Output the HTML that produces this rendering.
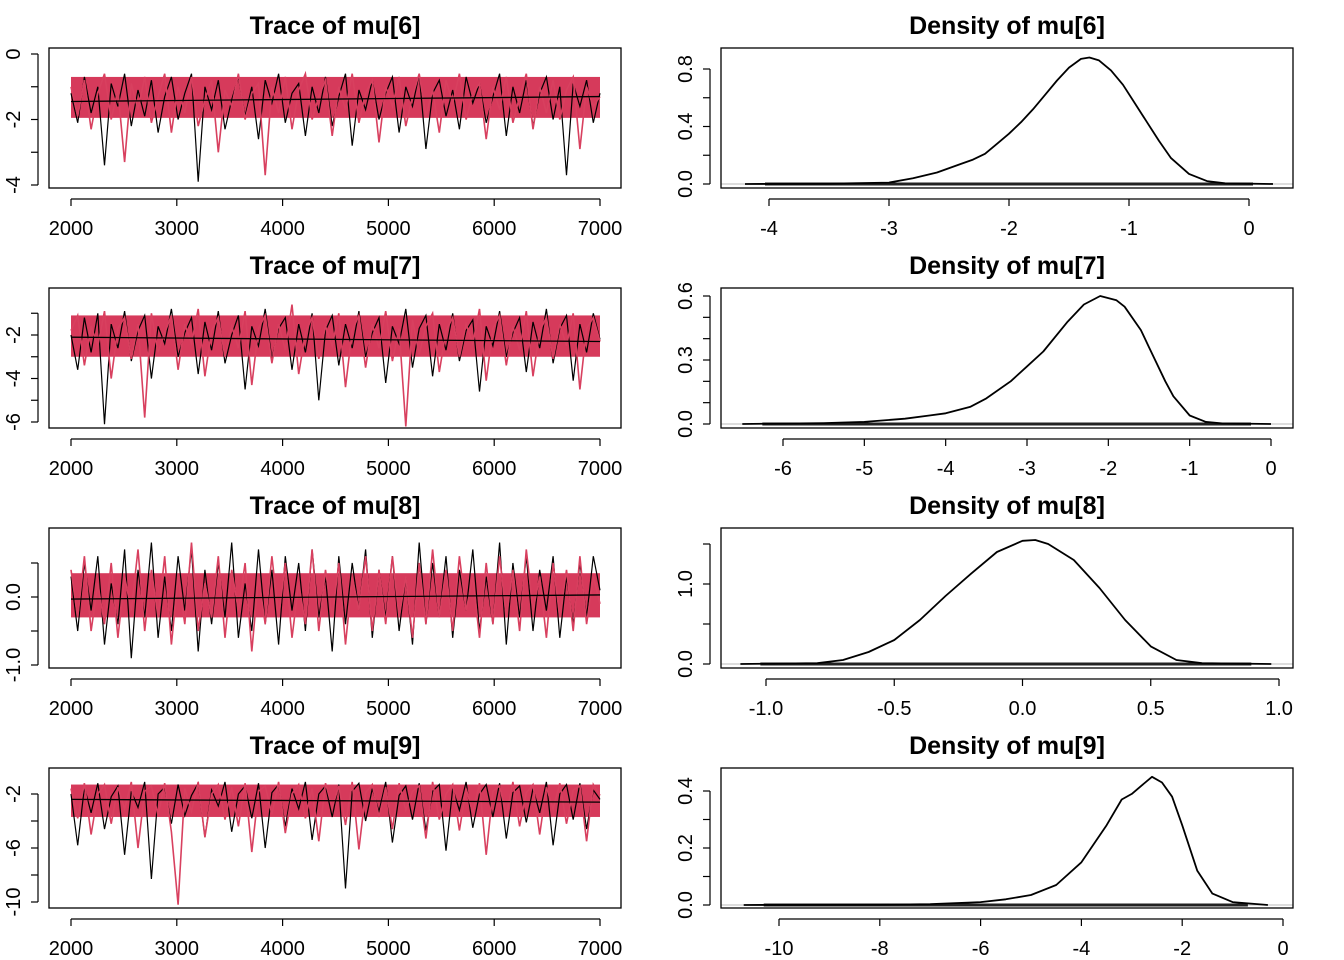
<!DOCTYPE html>
<html><head><meta charset="utf-8"><style>
body{margin:0;background:#fff;}
svg{display:block;font-family:"Liberation Sans",Arial,sans-serif;}
</style></head><body>
<svg id="c" width="1344" height="960" viewBox="0 0 1344 960"></svg>
<script>
// ---------- data ----------
const iterStart = 2000, iterEnd = 7000;
const traceTitles = ["Trace of mu[6]","Trace of mu[7]","Trace of mu[8]","Trace of mu[9]"];
const densTitles = ["Density of mu[6]","Density of mu[7]","Density of mu[8]","Density of mu[9]"];
const traceXTicks = [2000,3000,4000,5000,6000,7000];
// mu[6]
const t6Black = [-1.2,-2.1,-0.7,-1.8,-1.0,-3.4,-0.9,-1.6,-0.6,-2.2,-1.1,-1.9,-0.8,-2.4,-1.3,-0.7,-2.0,-1.2,-0.6,-3.9,-1.0,-1.7,-0.8,-2.3,-1.4,-0.7,-1.9,-1.0,-2.6,-0.8,-1.5,-0.6,-2.1,-1.2,-0.9,-2.5,-1.0,-1.8,-0.7,-2.2,-1.3,-0.6,-2.8,-1.1,-1.7,-0.8,-2.0,-1.2,-0.7,-2.4,-1.0,-1.6,-0.6,-2.9,-1.2,-0.8,-1.9,-1.1,-2.3,-0.7,-1.5,-0.9,-2.1,-1.3,-0.6,-2.5,-1.0,-1.8,-0.8,-2.2,-1.2,-0.7,-2.0,-1.0,-3.7,-0.9,-1.6,-0.8,-2.1,-1.2];
const t6Red = [-1.0,-1.9,-0.8,-2.3,-1.2,-0.6,-2.0,-1.1,-3.3,-0.9,-1.7,-0.7,-2.1,-1.3,-0.6,-2.4,-1.0,-1.8,-0.7,-2.2,-1.4,-0.8,-3.0,-1.1,-1.6,-0.6,-2.0,-1.2,-0.9,-3.7,-1.0,-1.8,-0.7,-2.3,-1.1,-0.6,-2.0,-1.3,-0.8,-2.5,-1.0,-1.7,-0.6,-2.1,-1.2,-0.8,-2.7,-1.0,-1.6,-0.7,-2.2,-1.3,-0.6,-1.9,-1.1,-2.4,-0.8,-1.5,-0.6,-2.0,-1.2,-0.9,-2.6,-1.0,-1.7,-0.7,-2.1,-1.3,-0.6,-2.3,-1.0,-1.8,-0.8,-2.0,-1.1,-0.7,-2.9,-1.0,-1.6,-1.3];
const t6Smooth = [-1.45,-1.3];
const t6Band = [-0.7,-1.95];
// mu[7]
const t7Black = [-2.0,-3.6,-1.2,-2.8,-1.0,-6.1,-1.5,-2.6,-0.9,-3.2,-1.8,-1.1,-4.0,-1.6,-2.4,-0.8,-3.0,-1.9,-1.2,-3.8,-1.4,-2.7,-0.9,-3.3,-2.0,-1.1,-4.5,-1.6,-2.5,-0.8,-3.1,-1.7,-1.2,-3.6,-1.5,-2.8,-1.0,-5.0,-1.8,-1.1,-3.4,-1.5,-2.6,-0.9,-3.0,-1.9,-1.2,-4.2,-1.6,-2.4,-0.8,-3.5,-1.7,-1.1,-3.9,-1.5,-2.7,-1.0,-3.2,-1.8,-1.3,-4.6,-1.6,-2.5,-0.9,-3.0,-1.9,-1.2,-3.7,-1.4,-2.6,-0.8,-3.3,-1.7,-1.1,-4.1,-1.5,-2.8,-1.0,-2.2];
const t7Red = [-1.8,-1.1,-3.4,-1.6,-2.5,-0.9,-4.0,-1.7,-1.2,-3.1,-1.5,-5.8,-1.0,-2.8,-1.9,-1.1,-3.6,-1.5,-2.4,-0.8,-3.9,-1.8,-1.2,-3.0,-1.6,-2.6,-0.9,-4.3,-1.7,-1.1,-3.3,-1.5,-2.7,-0.6,-3.8,-1.9,-1.2,-3.1,-1.6,-2.5,-1.0,-4.4,-1.8,-1.1,-3.5,-1.5,-2.6,-0.9,-3.2,-1.7,-6.2,-1.3,-2.9,-1.6,-1.0,-3.7,-1.8,-1.2,-3.0,-1.5,-2.4,-0.8,-4.1,-1.7,-1.1,-3.4,-1.6,-2.7,-0.9,-3.9,-1.8,-1.2,-3.1,-1.5,-2.5,-1.0,-4.5,-1.7,-1.2,-2.3];
const t7Smooth = [-2.1,-2.3];
const t7Band = [-1.1,-3.0];
// mu[8]
const t8Black = [0.3,-0.5,0.5,-0.2,0.6,-0.7,0.2,-0.4,0.7,-0.9,0.4,-0.3,0.8,-0.6,0.3,-0.5,0.6,-0.2,0.7,-0.8,0.4,-0.4,0.5,-0.3,0.8,-0.6,0.2,-0.5,0.7,-0.4,0.4,-0.7,0.6,-0.2,0.5,-0.5,0.7,-0.3,0.3,-0.8,0.6,-0.4,0.5,-0.2,0.7,-0.6,0.4,-0.3,0.6,-0.5,0.3,-0.7,0.8,-0.4,0.5,-0.3,0.6,-0.6,0.4,-0.2,0.7,-0.5,0.3,-0.4,0.8,-0.7,0.5,-0.3,0.6,-0.5,0.4,-0.2,0.6,-0.6,0.3,-0.4,0.5,-0.3,0.6,0.1];
const t8Red = [0.4,-0.3,0.6,-0.5,0.2,-0.4,0.5,-0.6,0.3,-0.2,0.7,-0.5,0.4,-0.3,0.6,-0.7,0.3,-0.4,0.8,-0.5,0.2,-0.3,0.6,-0.6,0.4,-0.2,0.5,-0.8,0.3,-0.4,0.6,-0.3,0.5,-0.6,0.2,-0.4,0.7,-0.5,0.4,-0.3,0.5,-0.7,0.3,-0.2,0.6,-0.5,0.4,-0.4,0.6,-0.3,0.3,-0.6,0.5,-0.4,0.7,-0.3,0.4,-0.5,0.6,-0.2,0.3,-0.6,0.5,-0.4,0.6,-0.3,0.4,-0.5,0.7,-0.2,0.3,-0.6,0.5,-0.3,0.4,-0.5,0.6,-0.4,0.3,-0.1];
const t8Smooth = [-0.03,0.03];
const t8Band = [0.35,-0.3];
// mu[9]
const t9Black = [-2.0,-5.8,-1.5,-3.4,-1.2,-4.6,-2.2,-1.4,-6.5,-1.8,-3.0,-1.1,-8.3,-2.0,-1.5,-4.2,-1.3,-3.6,-2.1,-1.2,-5.2,-1.7,-2.9,-1.1,-4.8,-2.0,-1.4,-3.8,-1.2,-6.0,-1.9,-1.3,-4.4,-1.6,-3.1,-1.1,-5.4,-2.0,-1.4,-3.7,-1.3,-9.0,-1.8,-1.2,-4.0,-1.6,-3.3,-1.1,-5.6,-2.1,-1.4,-3.9,-1.2,-4.7,-1.8,-1.3,-6.2,-1.6,-3.2,-1.1,-4.5,-2.0,-1.3,-3.7,-1.2,-5.3,-1.9,-1.4,-4.1,-1.6,-3.4,-1.1,-5.8,-2.0,-1.3,-3.9,-1.2,-4.6,-1.7,-2.4];
const t9Red = [-1.6,-3.8,-1.2,-5.0,-2.0,-1.3,-4.2,-1.5,-3.1,-1.1,-6.0,-1.8,-1.4,-3.6,-1.2,-4.8,-10.2,-1.6,-3.3,-1.1,-5.2,-2.0,-1.3,-3.9,-1.5,-4.4,-1.2,-6.3,-1.8,-1.4,-3.5,-1.1,-4.9,-2.0,-1.3,-3.8,-1.6,-5.5,-1.2,-3.0,-1.4,-4.3,-1.1,-6.1,-1.9,-1.3,-3.7,-1.5,-4.6,-1.2,-3.2,-1.8,-1.4,-5.3,-1.1,-3.9,-2.0,-1.3,-4.7,-1.6,-3.4,-1.2,-6.5,-1.8,-1.4,-3.6,-1.1,-4.4,-1.9,-1.3,-5.0,-1.5,-3.1,-1.2,-4.2,-1.7,-1.4,-5.5,-1.3,-2.1];
const t9Smooth = [-2.4,-2.6];
const t9Band = [-1.3,-3.7];

const traceBlack = [t6Black,t7Black,t8Black,t9Black];
const traceRed = [t6Red,t7Red,t8Red,t9Red];
const traceSmooth = [t6Smooth,t7Smooth,t8Smooth,t9Smooth];
const traceBand = [t6Band,t7Band,t8Band,t9Band];

// density data
const d6x = [-4.2,-3.5,-3.0,-2.8,-2.6,-2.4,-2.3,-2.2,-2.1,-2.0,-1.9,-1.8,-1.7,-1.6,-1.5,-1.4,-1.33,-1.25,-1.15,-1.05,-0.95,-0.85,-0.75,-0.65,-0.5,-0.35,-0.2,0.2];
const d6y = [0,0.002,0.01,0.04,0.08,0.14,0.17,0.21,0.28,0.35,0.43,0.52,0.62,0.72,0.81,0.87,0.88,0.86,0.79,0.69,0.56,0.43,0.30,0.18,0.07,0.02,0.005,0];
const d7x = [-6.5,-5.5,-5.0,-4.5,-4.2,-4.0,-3.7,-3.5,-3.2,-3.0,-2.8,-2.5,-2.3,-2.1,-1.9,-1.8,-1.6,-1.5,-1.3,-1.2,-1.0,-0.8,-0.6,0];
const d7y = [0,0.004,0.01,0.025,0.04,0.05,0.08,0.12,0.2,0.27,0.34,0.48,0.56,0.60,0.58,0.55,0.44,0.36,0.2,0.13,0.04,0.01,0.003,0];
const d8x = [-1.1,-0.8,-0.7,-0.6,-0.5,-0.4,-0.3,-0.2,-0.1,0.0,0.05,0.1,0.2,0.3,0.4,0.5,0.6,0.7,0.97];
const d8y = [0,0.01,0.05,0.15,0.3,0.55,0.85,1.13,1.4,1.54,1.55,1.5,1.3,0.95,0.55,0.22,0.05,0.01,0];
const d9x = [-10.7,-8,-7,-6,-5.5,-5,-4.5,-4,-3.5,-3.2,-3.0,-2.8,-2.6,-2.4,-2.2,-2.0,-1.7,-1.4,-1.0,-0.3];
const d9y = [0,0.001,0.003,0.01,0.02,0.035,0.07,0.15,0.28,0.37,0.39,0.42,0.45,0.43,0.38,0.28,0.12,0.04,0.01,0];
const densX = [d6x,d7x,d8x,d9x];
const densY = [d6y,d7y,d8y,d9y];
const densXTicks = [[-4,-3,-2,-1,0],[-6,-5,-4,-3,-2,-1,0],[-1.0,-0.5,0.0,0.5,1.0],[-10,-8,-6,-4,-2,0]];
const densXLabels = [["-4","-3","-2","-1","0"],["-6","-5","-4","-3","-2","-1","0"],["-1.0","-0.5","0.0","0.5","1.0"],["-10","-8","-6","-4","-2","0"]];
const densYTicks = [[0,0.2,0.4,0.6,0.8],[0,0.1,0.2,0.3,0.4,0.5,0.6],[0,0.5,1.0,1.5],[0,0.1,0.2,0.3,0.4]];
const densYLabels = [["0.0","","0.4","","0.8"],["0.0","","","0.3","","","0.6"],["0.0","","1.0",""],["0.0","","0.2","","0.4"]];
const traceYTicks = [[0,-1,-2,-3,-4],[-1,-2,-3,-4,-5,-6],[0.5,0.0,-0.5,-1.0],[-2,-4,-6,-8,-10]];
const traceYLabels = [["0","","-2","","-4"],["","-2","","-4","","-6"],["","0.0","","-1.0"],["-2","","-6","","-10"]];

// ---------- layout (pixel calibration per panel) ----------
const rowOff = [0,240,480,720];
const traceYCal = [[0,54,-4,185],[-2,335,-6,422],[0,597,-1,665],[-2,794,-10,902]];
const densXCal = [[-4,769,0,1249],[-6,783,0,1271],[-1,766,1,1279],[-10,779,0,1283]];
const densYCal = [[0,184,0.8,69],[0,424,0.6,296],[0,664,1,584],[0,905,0.4,791]];

const svg = document.getElementById('c');
const NS = 'http://www.w3.org/2000/svg';
function mk(tag, attrs, parent){const e=document.createElementNS(NS,tag);for(const k in attrs)e.setAttribute(k,attrs[k]);(parent||svg).appendChild(e);return e;}
function lin(c){return v=>c[1]+(v-c[0])*(c[3]-c[1])/(c[2]-c[0]);}

for(let p=0;p<4;p++){
  const off=rowOff[p];
  const top=48+off, bot=188+off;
  // ---- trace panel ----
  const g=mk('g',{});
  
  
  const xs=lin([iterStart,71,iterEnd,600]);
  const ys=lin(traceYCal[p]);
  const clip=mk('clipPath',{id:'cp'+p},g);
  mk('rect',{x:49,y:top,width:572,height:bot-top},clip);
  const bd=traceBand[p];
  const band=mk('rect',{x:xs(iterStart),y:ys(bd[0]),width:xs(iterEnd)-xs(iterStart),height:ys(bd[1])-ys(bd[0]),fill:'#D63A5B'},g);
  
  
  const series=[[traceBlack[p],'#000',1.2],[traceRed[p],'#D8405F',1.6]];
  series.forEach((s,si)=>{
    const n=s[0].length;
    const pts=s[0].map((v,i)=>xs(iterStart+(iterEnd-iterStart)*i/(n-1)).toFixed(1)+','+ys(v).toFixed(1)).join(' ');
    const pl=mk('polyline',{points:pts,fill:'none',stroke:s[1],'stroke-width':s[2],'clip-path':'url(#cp'+p+')'},g);
    
    
  });
  const sm=mk('line',{x1:xs(iterStart),y1:ys(traceSmooth[p][0]),x2:xs(iterEnd),y2:ys(traceSmooth[p][1]),stroke:'#000','stroke-width':1.3},g);
  
  
  const box=mk('rect',{x:49,y:top,width:572,height:bot-top,fill:'none',stroke:'#000','stroke-width':1.3},g);
  
  
  const tt=mk('text',{x:335,y:34+off,'text-anchor':'middle','font-size':25,'font-weight':'bold'},g);
  tt.textContent=traceTitles[p];
  
  
  mk('line',{x1:xs(traceXTicks[0]),y1:bot+11,x2:xs(traceXTicks[traceXTicks.length-1]),y2:bot+11,stroke:'#000','stroke-width':1.2},g);
  traceXTicks.forEach(t=>{
    mk('line',{x1:xs(t),y1:bot+11,x2:xs(t),y2:bot+18,stroke:'#000','stroke-width':1.2},g);
    const l=mk('text',{x:xs(t),y:bot+47,'text-anchor':'middle','font-size':20},g);
    l.textContent=t;
    
    
  });
  const yt=traceYTicks[p];
  mk('line',{x1:38,y1:ys(yt[0]),x2:38,y2:ys(yt[yt.length-1]),stroke:'#000','stroke-width':1.2},g);
  yt.forEach((t,i)=>{
    mk('line',{x1:31,y1:ys(t),x2:38,y2:ys(t),stroke:'#000','stroke-width':1.2},g);
    if(traceYLabels[p][i]){
      const l=mk('text',{x:20,y:ys(t),'text-anchor':'middle','font-size':20,transform:'rotate(-90 20 '+ys(t)+')'},g);
      l.textContent=traceYLabels[p][i];
      
      
    }
  });
  // ---- density panel ----
  const h=mk('g',{});
  
  
  const dx=lin(densXCal[p]), dy=lin(densYCal[p]);
  const X=densX[p], Y=densY[p];
  mk('line',{x1:721,y1:dy(0),x2:1293,y2:dy(0),stroke:'#bbb','stroke-width':1},h);
  const rug=mk('rect',{x:dx(X[0])+20,y:dy(0)-1.5,width:dx(X[X.length-1])-dx(X[0])-40,height:3,fill:'#222'},h);
  
  
  const dpts=X.map((v,i)=>dx(v).toFixed(1)+','+dy(Y[i]).toFixed(1)).join(' ');
  const dl=mk('polyline',{points:dpts,fill:'none',stroke:'#000','stroke-width':1.8,'stroke-linejoin':'round'},h);
  
  
  const b2=mk('rect',{x:721,y:top,width:572,height:bot-top,fill:'none',stroke:'#000','stroke-width':1.3},h);
  
  
  const dt=mk('text',{x:1007,y:34+off,'text-anchor':'middle','font-size':25,'font-weight':'bold'},h);
  dt.textContent=densTitles[p];
  
  
  const xt=densXTicks[p];
  mk('line',{x1:dx(xt[0]),y1:bot+11,x2:dx(xt[xt.length-1]),y2:bot+11,stroke:'#000','stroke-width':1.2},h);
  xt.forEach((t,i)=>{
    mk('line',{x1:dx(t),y1:bot+11,x2:dx(t),y2:bot+18,stroke:'#000','stroke-width':1.2},h);
    const l=mk('text',{x:dx(t),y:bot+47,'text-anchor':'middle','font-size':20},h);
    l.textContent=densXLabels[p][i];
    
    
  });
  const dyt=densYTicks[p].filter(t=>dy(t)>=top-1);
  mk('line',{x1:710,y1:dy(dyt[0]),x2:710,y2:dy(dyt[dyt.length-1]),stroke:'#000','stroke-width':1.2},h);
  dyt.forEach((t,i)=>{
    mk('line',{x1:703,y1:dy(t),x2:710,y2:dy(t),stroke:'#000','stroke-width':1.2},h);
    if(densYLabels[p][i]){
      const l=mk('text',{x:692,y:dy(t),'text-anchor':'middle','font-size':20,transform:'rotate(-90 692 '+dy(t)+')'},h);
      l.textContent=densYLabels[p][i];
      
      
    }
  });
}
</script>
</body></html>
